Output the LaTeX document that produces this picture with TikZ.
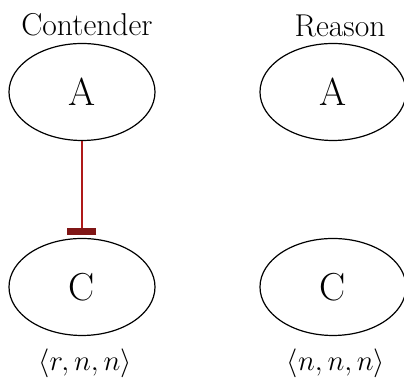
\documentclass[tikz,border=0pt]{standalone}
\usetikzlibrary{shapes.geometric,arrows.meta}
\definecolor{barred}{RGB}{128,22,22}
\definecolor{linered}{RGB}{175,25,25}
\begin{document}
\begin{tikzpicture}[x=0.5pt,y=-0.5pt,
  ell/.style={draw,ellipse,line width=0.6pt,minimum width=73pt,minimum height=48.5pt,inner sep=0pt,font=\fontsize{19.5}{23}\selectfont},
  lab/.style={font=\fontsize{15.8}{19}\selectfont,inner sep=0pt},
  inhib/.style={color=linered,line width=0.55pt,-{Bar[width=14.5pt,line width=3.5pt,color=barred]},shorten >=1.5pt}]
\useasboundingbox (0,0) rectangle (404,383);
\node[ell] (A1) at (82,92) {A};
\node[ell] (A2) at (333,92) {A};
\node[ell] (C1) at (82,287) {C};
\node[ell] (C2) at (333,287) {C};
\node[lab] (L1) at (87,25) {Contender};
\node[lab] (L2) at (340,26) {Reason};
\node[lab] (T1) at (85,363) {$\langle r,n,n\rangle$};
\node[lab] (T2) at (336,363) {$\langle n,n,n\rangle$};
\draw[inhib] (A1.south) -- (C1.north);
\end{tikzpicture}
\end{document}
